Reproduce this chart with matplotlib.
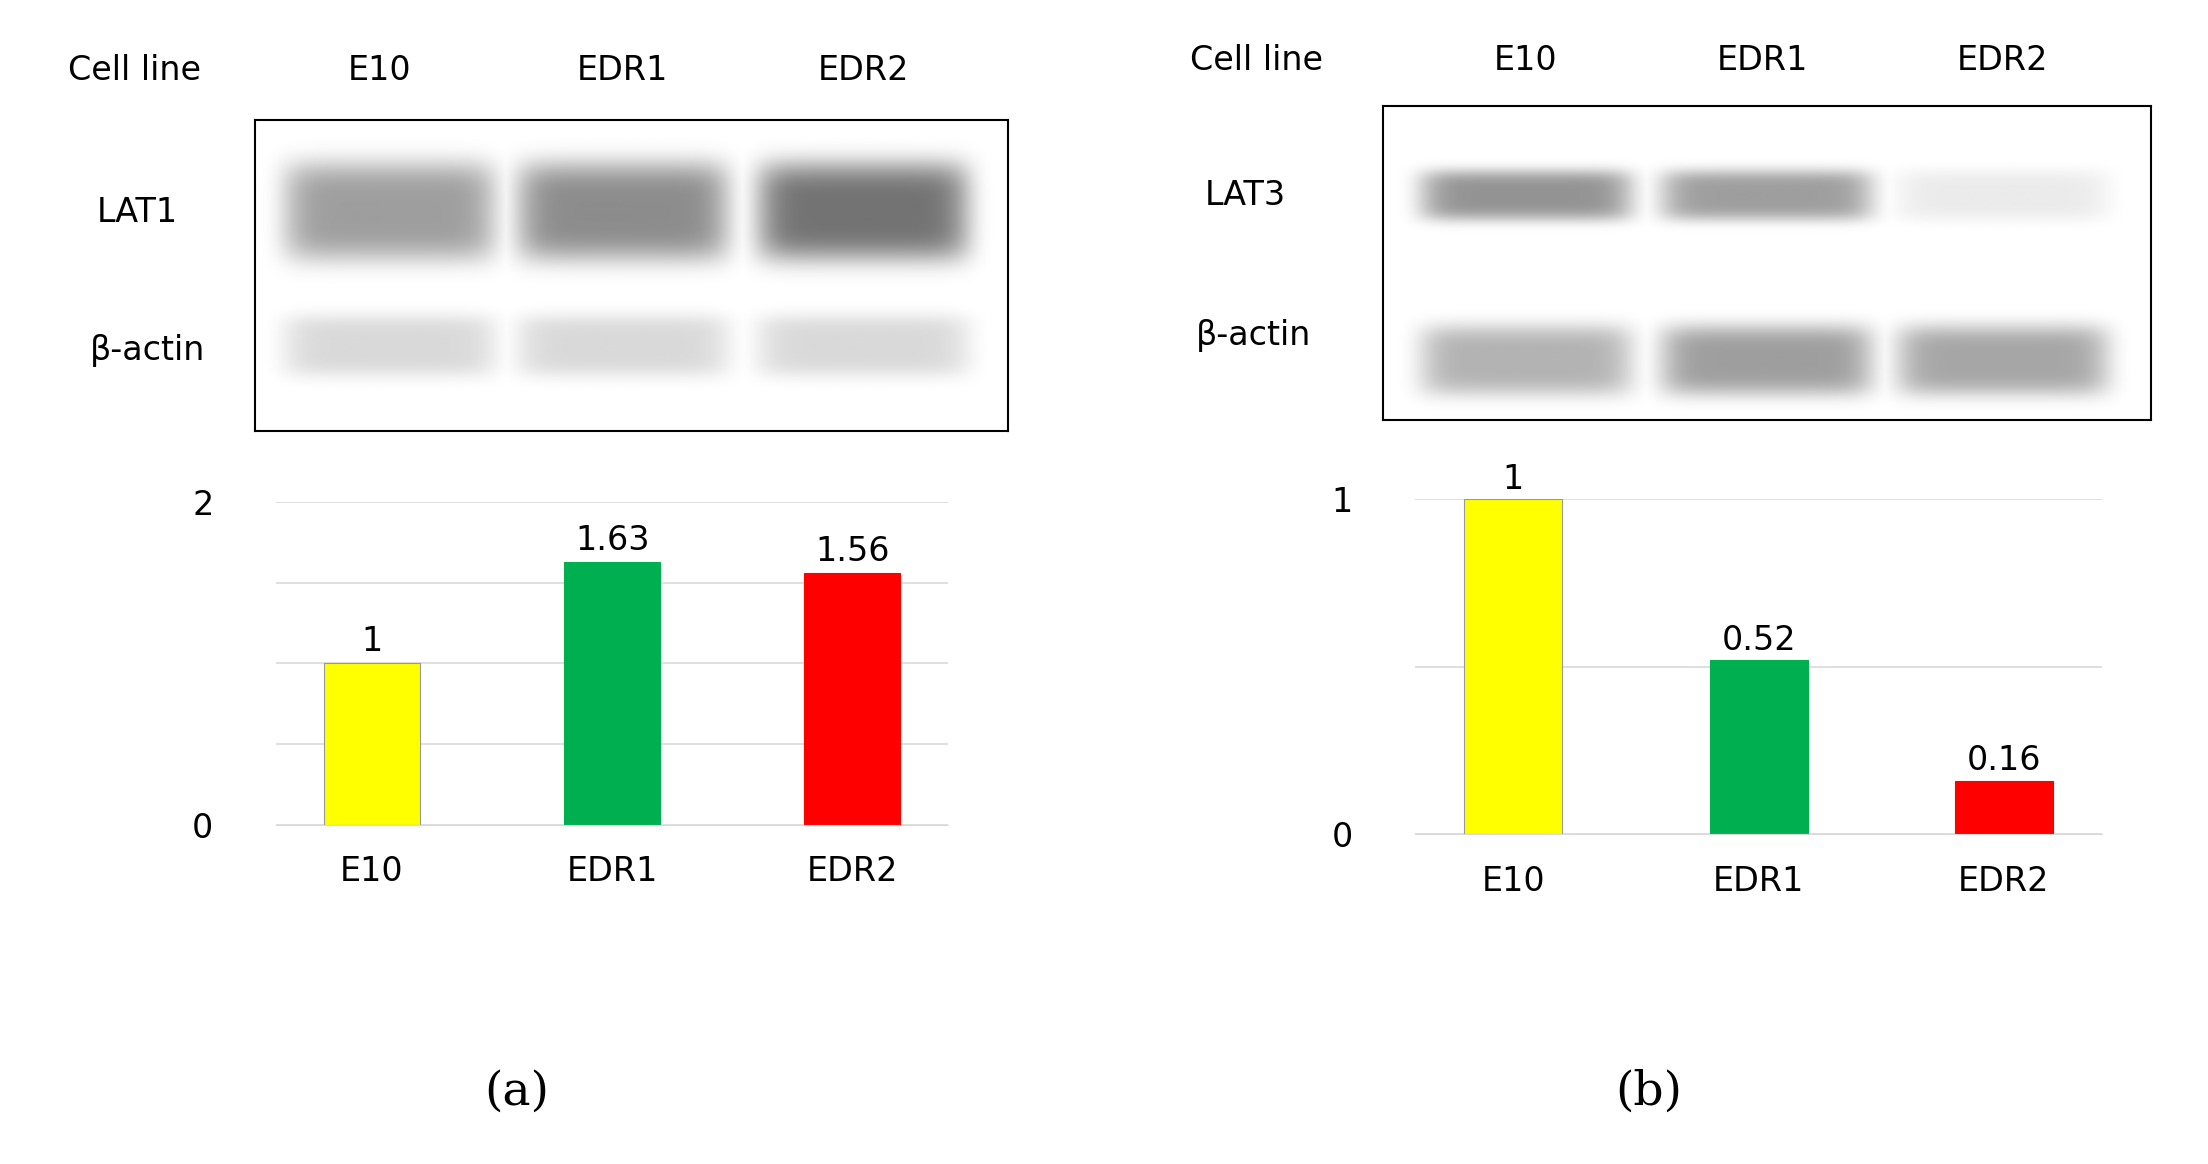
import matplotlib.pyplot as plt
import numpy as np

# data
cells = ["E10", "EDR1", "EDR2"]
lat1_vals = [1, 1.63, 1.56]
lat3_vals = [1, 0.52, 0.16]
lat1_labels = ["1", "1.63", "1.56"]
lat3_labels = ["1", "0.52", "0.16"]
bar_colors = ["#ffff00", "#00b050", "#ff0000"]
# band darkness per lane (0..1), read by eye from the blots
lat1_band = [0.38, 0.45, 0.55]
actin_a_band = [0.15, 0.15, 0.15]
lat3_band = [0.42, 0.38, 0.08]
actin_b_band = [0.3, 0.38, 0.35]

W, H = 1560.0, 823.0
fig = plt.figure(figsize=(22.08, 11.64), dpi=100)
fig.patch.set_facecolor("white")

def fx(x):
    return x / W

def fy(y):
    return 1 - y / H

def box(x0, y0, x1, y1):
    return [fx(x0), fy(y1), fx(x1) - fx(x0), fy(y0) - fy(y1)]

def blot(ax, rows, lane_x, xlim, ylim):
    # render soft gray bands
    nx, ny = 600, 300
    xs = np.linspace(xlim[0], xlim[1], nx)
    ys = np.linspace(ylim[0], ylim[1], ny)
    X, Y = np.meshgrid(xs, ys)
    img = np.zeros_like(X)
    for yc, hh, dark in rows:
        for cx, d in zip(lane_x, dark):
            g = np.exp(-((X - cx) / 75.0) ** 8) * np.exp(-((Y - yc) / hh) ** 4)
            img = np.maximum(img, d * g)
    ax.imshow(1 - img, cmap="gray", vmin=0, vmax=1, extent=[xlim[0], xlim[1], ylim[1], ylim[0]],
              aspect="auto", interpolation="bilinear")
    ax.set_xticks([])
    ax.set_yticks([])
    for s in ax.spines.values():
        s.set_linewidth(1.5)

fs = 24
xpos = np.arange(3)

# ---------- panel a ----------
fig.text(fx(95), fy(50), "Cell line", fontsize=fs, ha="center", va="center")
for px, c in zip([268, 440, 610], cells):
    fig.text(fx(px), fy(50), c, fontsize=fs, ha="center", va="center")
axb = fig.add_axes(box(180, 85, 712, 305))
blot(axb, [(150, 35, lat1_band), (245, 22, actin_a_band)], [275, 440, 610], (180, 712), (85, 305))
fig.text(fx(97), fy(150), "LAT1", fontsize=fs, ha="center", va="center")
fig.text(fx(104), fy(248), "β-actin", fontsize=fs, ha="center", va="center")

ax1 = fig.add_axes(box(195, 355, 670, 583))
ax1.bar(xpos, lat1_vals, width=0.4, color=bar_colors, edgecolor=["#999999", bar_colors[1], bar_colors[2]], linewidth=0.8, zorder=2)
for i, (v, t) in enumerate(zip(lat1_vals, lat1_labels)):
    ax1.text(i, v + 0.03, t, ha="center", va="bottom", fontsize=fs)
ax1.set_ylim(0, 2)
ax1.set_xlim(-0.4, 2.4)
ax1.set_yticks([0, 0.5, 1, 1.5, 2])
ax1.set_yticklabels(["0", "", "", "", "2"], fontsize=fs)
ax1.grid(axis="y", color="#d9d9d9", linewidth=1.2, zorder=0)
ax1.set_xticks(xpos)
ax1.set_xticklabels(cells, fontsize=fs)
ax1.tick_params(length=0, pad=22)
ax1.tick_params(axis="y", pad=45)
for s in ["top", "right", "left"]:
    ax1.spines[s].set_visible(False)
ax1.spines["bottom"].set_color("#d9d9d9")
fig.text(fx(365), fy(772), "(a)", fontsize=34, ha="center", va="center", family="DejaVu Serif")

# ---------- panel b ----------
fig.text(fx(888), fy(43), "Cell line", fontsize=fs, ha="center", va="center")
for px, c in zip([1078, 1245, 1415], cells):
    fig.text(fx(px), fy(43), c, fontsize=fs, ha="center", va="center")
axb2 = fig.add_axes(box(977, 75, 1520, 297))
blot(axb2, [(138, 18, lat3_band), (255, 25, actin_b_band)], [1078, 1248, 1415], (977, 1520), (75, 297))
fig.text(fx(880), fy(138), "LAT3", fontsize=fs, ha="center", va="center")
fig.text(fx(886), fy(237), "β-actin", fontsize=fs, ha="center", va="center")

ax2 = fig.add_axes(box(1000, 353, 1485, 590))
ax2.bar(xpos, lat3_vals, width=0.4, color=bar_colors, edgecolor=["#999999", bar_colors[1], bar_colors[2]], linewidth=0.8, zorder=2)
for i, (v, t) in enumerate(zip(lat3_vals, lat3_labels)):
    ax2.text(i, v + 0.01, t, ha="center", va="bottom", fontsize=fs)
ax2.set_ylim(0, 1)
ax2.set_xlim(-0.4, 2.4)
ax2.set_yticks([0, 0.5, 1])
ax2.set_yticklabels(["0", "", "1"], fontsize=fs)
ax2.grid(axis="y", color="#d9d9d9", linewidth=1.2, zorder=0)
ax2.set_xticks(xpos)
ax2.set_xticklabels(cells, fontsize=fs)
ax2.tick_params(length=0, pad=22)
ax2.tick_params(axis="y", pad=45)
for s in ["top", "right", "left"]:
    ax2.spines[s].set_visible(False)
ax2.spines["bottom"].set_color("#d9d9d9")
fig.text(fx(1165), fy(772), "(b)", fontsize=34, ha="center", va="center", family="DejaVu Serif")

fig.savefig("out.png", dpi=100)
